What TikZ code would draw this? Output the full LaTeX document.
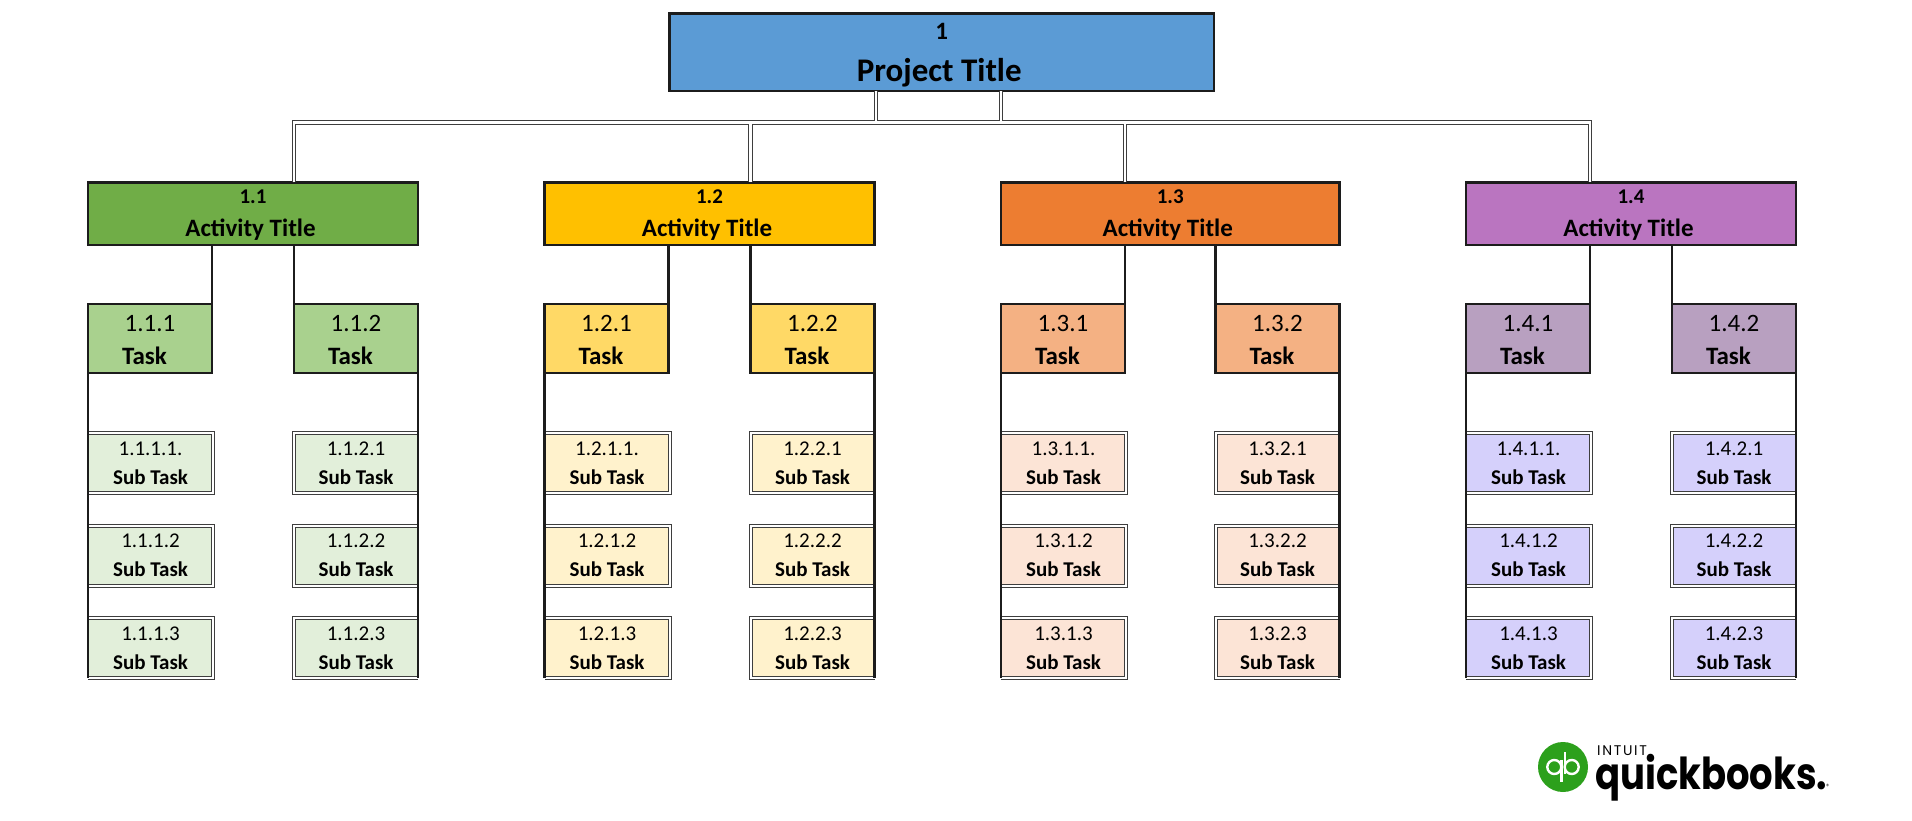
\documentclass[tikz,border=0pt]{standalone}
\usepackage{fontspec}
\setmainfont{Carlito}
\newfontfamily\logofont{Poppins}
\usetikzlibrary{positioning}
\usetikzlibrary{calc}
\definecolor{rootblue}{HTML}{5B9BD5}
\definecolor{actgreen}{HTML}{70AD47}
\definecolor{actyellow}{HTML}{FFC000}
\definecolor{actorange}{HTML}{ED7D31}
\definecolor{actpurple}{HTML}{BA75C0}
\definecolor{taskgreen}{HTML}{A9D18E}
\definecolor{taskyellow}{HTML}{FFD966}
\definecolor{taskorange}{HTML}{F4B183}
\definecolor{taskpurple}{HTML}{B8A0C0}
\definecolor{subgreen}{HTML}{E2EFDA}
\definecolor{subyellow}{HTML}{FFF2CC}
\definecolor{suborange}{HTML}{FCE4D6}
\definecolor{subpurple}{HTML}{D5D0FB}
\definecolor{edge}{HTML}{1C1C1C}
\definecolor{logogreen}{HTML}{2CA01C}
\tikzset{
  % Top box of the breakdown
  rootbox/.style={
    draw=edge, line width=2.8pt, fill=rootblue, rectangle, align=center,
    outer sep=0pt, inner sep=0pt, text=black, minimum width=544.5pt, minimum height=77.5pt,
    font=\fontsize{33}{42}\selectfont\bfseries},
  % One activity: fill colour as argument
  activity/.style={
    draw=edge, line width=2.6pt, fill=#1, rectangle, align=center,
    outer sep=0pt, inner sep=0pt, minimum width=330pt, minimum height=62.5pt,
    font=\fontsize{25}{33}\selectfont\bfseries},
  % One task
  taskbox/.style={
    draw=edge, line width=2.6pt, fill=#1, rectangle, align=center,
    outer sep=0pt, inner sep=0pt, minimum width=124pt, minimum height=69pt,
    font=\fontsize{25}{33}\selectfont},
  % Double border of a sub task, open on the side of the spine
  subedge/.style={draw=edge!85, line width=1pt, double, double distance=2pt},
  % One sub task: spine on its left
  subleft/.style={
    rectangle, align=center,
    outer sep=0pt, inner sep=0pt, minimum width=125pt, minimum height=60pt,
    font=\fontsize{21}{29}\selectfont,
    append after command={\pgfextra{
      \fill[#1] (\tikzlastnode.north west) rectangle (\tikzlastnode.south east);
      \draw[subedge] (\tikzlastnode.north west) -- (\tikzlastnode.north east)
      -- (\tikzlastnode.south east) -- (\tikzlastnode.south west);}}},
  % One sub task: spine on its right
  subright/.style={
    rectangle, align=center,
    outer sep=0pt, inner sep=0pt, minimum width=124pt, minimum height=60pt,
    font=\fontsize{21}{29}\selectfont,
    append after command={\pgfextra{
      \fill[#1] (\tikzlastnode.north west) rectangle (\tikzlastnode.south east);
      \draw[subedge] (\tikzlastnode.north east) -- (\tikzlastnode.north west)
      -- (\tikzlastnode.south west) -- (\tikzlastnode.south east);}}},
  % Relationships
  link/.style={draw=edge, line width=2.8pt},
  bus/.style={draw=edge!85, line width=1.1pt, double, double distance=2.2pt},
  qbstroke/.style={draw=white, line width=2.4pt},
}
\newcommand{\rootnum}[1]{{\fontsize{25}{42}\selectfont\rule{0pt}{22pt}#1}}
\newcommand{\actnum}[1]{{\fontsize{21}{33}\selectfont\rule{0pt}{16pt}#1}}
\newcommand{\tasknum}[1]{\rule{0pt}{19pt}#1}
\newcommand{\acttitle}{Activity Title\hspace*{5pt}}
\newcommand{\tasklbl}{\textbf{Task}\hspace*{11pt}}
\newcommand{\sublbl}{\textbf{Sub Task}}

\begin{document}
\begin{tikzpicture}
  \useasboundingbox (0,0) rectangle (1912pt,-821pt);

  % --- Project ---------------------------------------------------------
  \node[rootbox] (root) at (941.75pt,-52.25pt) {\rootnum{1}\\Project Title\hspace*{5pt}};

  % --- Activities ------------------------------------------------------
  \node[activity=actgreen, below=91.5pt of root, xshift=-688.75pt] (act1) {\actnum{1.1}\\\acttitle};
  \node[activity=actyellow, right=126.5pt of act1] (act2) {\actnum{1.2}\\\acttitle};
  \node[activity=actorange, right=126.5pt of act2, minimum width=338.5pt] (act3) {\actnum{1.3}\\\acttitle};
  \node[activity=actpurple, right=126.5pt of act3] (act4) {\actnum{1.4}\\\acttitle};

  % --- Tasks -----------------------------------------------------------
  \node[taskbox=taskgreen, below=59pt of act1.south west, anchor=north west] (t11) {\tasknum{1.1.1}\\\tasklbl};
  \node[taskbox=taskgreen, below=59pt of act1.south east, anchor=north east] (t12) {\tasknum{1.1.2}\\\tasklbl};
  \node[taskbox=taskyellow, below=59pt of act2.south west, anchor=north west] (t21) {\tasknum{1.2.1}\\\tasklbl};
  \node[taskbox=taskyellow, below=59pt of act2.south east, anchor=north east] (t22) {\tasknum{1.2.2}\\\tasklbl};
  \node[taskbox=taskorange, below=59pt of act3.south west, anchor=north west] (t31) {\tasknum{1.3.1}\\\tasklbl};
  \node[taskbox=taskorange, below=59pt of act3.south east, anchor=north east] (t32) {\tasknum{1.3.2}\\\tasklbl};
  \node[taskbox=taskpurple, below=59pt of act4.south west, anchor=north west] (t41) {\tasknum{1.4.1}\\\tasklbl};
  \node[taskbox=taskpurple, below=59pt of act4.south east, anchor=north east] (t42) {\tasknum{1.4.2}\\\tasklbl};

  % --- Sub tasks, green ------------------------------------------------
  \node[subleft=subgreen, below=60pt of t11.south west, anchor=north west] (s111) {1.1.1.1.\\\sublbl};
  \node[subleft=subgreen, below=32.5pt of s111] (s112) {1.1.1.2\\\sublbl};
  \node[subleft=subgreen, below=32.5pt of s112] (s113) {1.1.1.3\\\sublbl};
  \node[subright=subgreen, below=60pt of t12.south east, anchor=north east] (s121) {1.1.2.1\\\sublbl};
  \node[subright=subgreen, below=32.5pt of s121] (s122) {1.1.2.2\\\sublbl};
  \node[subright=subgreen, below=32.5pt of s122] (s123) {1.1.2.3\\\sublbl};

  % --- Sub tasks, yellow -----------------------------------------------
  \node[subleft=subyellow, below=60pt of t21.south west, anchor=north west] (s211) {1.2.1.1.\\\sublbl};
  \node[subleft=subyellow, below=32.5pt of s211] (s212) {1.2.1.2\\\sublbl};
  \node[subleft=subyellow, below=32.5pt of s212] (s213) {1.2.1.3\\\sublbl};
  \node[subright=subyellow, below=60pt of t22.south east, anchor=north east] (s221) {1.2.2.1\\\sublbl};
  \node[subright=subyellow, below=32.5pt of s221] (s222) {1.2.2.2\\\sublbl};
  \node[subright=subyellow, below=32.5pt of s222] (s223) {1.2.2.3\\\sublbl};

  % --- Sub tasks, orange -----------------------------------------------
  \node[subleft=suborange, below=60pt of t31.south west, anchor=north west] (s311) {1.3.1.1.\\\sublbl};
  \node[subleft=suborange, below=32.5pt of s311] (s312) {1.3.1.2\\\sublbl};
  \node[subleft=suborange, below=32.5pt of s312] (s313) {1.3.1.3\\\sublbl};
  \node[subright=suborange, below=60pt of t32.south east, anchor=north east] (s321) {1.3.2.1\\\sublbl};
  \node[subright=suborange, below=32.5pt of s321] (s322) {1.3.2.2\\\sublbl};
  \node[subright=suborange, below=32.5pt of s322] (s323) {1.3.2.3\\\sublbl};

  % --- Sub tasks, purple -----------------------------------------------
  \node[subleft=subpurple, below=60pt of t41.south west, anchor=north west] (s411) {1.4.1.1.\\\sublbl};
  \node[subleft=subpurple, below=32.5pt of s411] (s412) {1.4.1.2\\\sublbl};
  \node[subleft=subpurple, below=32.5pt of s412] (s413) {1.4.1.3\\\sublbl};
  \node[subright=subpurple, below=60pt of t42.south east, anchor=north east] (s421) {1.4.2.1\\\sublbl};
  \node[subright=subpurple, below=32.5pt of s421] (s422) {1.4.2.2\\\sublbl};
  \node[subright=subpurple, below=32.5pt of s422] (s423) {1.4.2.3\\\sublbl};

  % --- Project to activities -------------------------------------------
  \coordinate (dropl) at ($(root.south)+(-66pt,-31.5pt)$);
  \coordinate (dropr) at ($(root.south)+(59pt,-31.5pt)$);
  \draw[bus] (t12.north west |- act1.north) |- (dropl) -- (dropr) -| (t41.north east |- act4.north)
    (dropl) -- (root.south -| dropl)
    (dropr) -- (root.south -| dropr)
    (t22.north west |- dropl) -- (t22.north west |- act2.north)
    (t31.north east |- dropl) -- (t31.north east |- act3.north);

  % --- Activities to tasks ---------------------------------------------
  \draw[link] (act1.south -| t11.north east) -- (t11.north east);
  \draw[link] (act1.south -| t12.north west) -- (t12.north west);
  \draw[link] (act2.south -| t21.north east) -- (t21.north east);
  \draw[link] (act2.south -| t22.north west) -- (t22.north west);
  \draw[link] (act3.south -| t31.north east) -- (t31.north east);
  \draw[link] (act3.south -| t32.north west) -- (t32.north west);
  \draw[link] (act4.south -| t41.north east) -- (t41.north east);
  \draw[link] (act4.south -| t42.north west) -- (t42.north west);

  % --- Tasks to sub tasks ----------------------------------------------
  \draw[link] (t11.south west) -- (s113.south west);
  \draw[link] (t12.south east) -- (s123.south east);
  \draw[link] (t21.south west) -- (s213.south west);
  \draw[link] (t22.south east) -- (s223.south east);
  \draw[link] (t31.south west) -- (s313.south west);
  \draw[link] (t32.south east) -- (s323.south east);
  \draw[link] (t41.south west) -- (s413.south west);
  \draw[link] (t42.south east) -- (s423.south east);

  % --- Logo ------------------------------------------------------------
  \node[circle, fill=logogreen, minimum size=50pt, inner sep=0pt] (logo) at (1563pt,-767pt) {};
  \begin{scope}[shift={(logo.center)}]
    \draw[qbstroke] (-8.7pt,0) circle (7pt);
    \draw[qbstroke] (-1.7pt,7pt) -- (-1.7pt,-15pt);
    \draw[qbstroke] (8.7pt,0) circle (7pt);
    \draw[qbstroke] (1.7pt,-7pt) -- (1.7pt,15pt);
  \end{scope}
  \node[anchor=base west, inner sep=0pt, xscale=.84, transform shape, font=\logofont\fontsize{44}{44}\selectfont\bfseries] (qbname) at (1595pt,-789pt) {quickbooks.};
  \node[anchor=base west, inner sep=0pt, font=\logofont\fontsize{14}{14}\selectfont\addfontfeature{LetterSpace=12}] (intuit) at (1597pt,-755pt) {INTUIT};
  \node[anchor=base west, inner sep=0pt, font=\logofont\fontsize{6}{6}\selectfont] (regmark) at (1826pt,-788pt) {®};
\end{tikzpicture}
\end{document}
